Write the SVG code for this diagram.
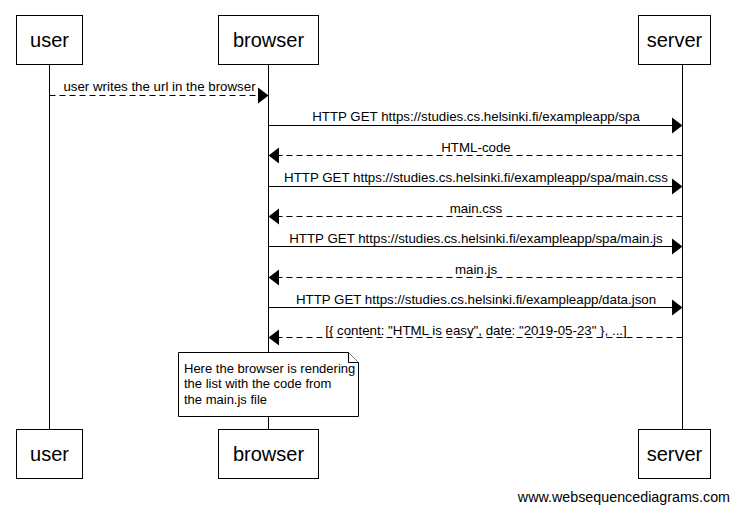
<svg xmlns="http://www.w3.org/2000/svg" width="739" height="512" viewBox="0 0 739 512">
<style>
.box{fill:#fff;stroke:#000;stroke-width:1}
.life{stroke:#000;stroke-width:1}
.pt{font-family:"Liberation Sans",Arial,sans-serif;font-size:20px;text-anchor:middle;fill:#000}
.lbl{font-family:"Liberation Sans",Arial,sans-serif;font-size:13.3px;text-anchor:middle;fill:#000}
.note{font-family:"Liberation Sans",Arial,sans-serif;font-size:13px;fill:#000}
.sol{stroke:#000;stroke-width:1;fill:none}
.dash{stroke:#000;stroke-width:1;fill:none;stroke-dasharray:6,4}
.head{fill:#000}
</style>
<rect width="739" height="512" fill="#fff"/>
<g id="lifelines">
<line class="life" x1="49.5" y1="64" x2="49.5" y2="430"/>
<line class="life" x1="268.5" y1="64" x2="268.5" y2="430"/>
<line class="life" x1="682.5" y1="64" x2="682.5" y2="430"/>
</g>
<g id="user">
<rect class="box" x="16.5" y="15.5" width="66" height="49"/>
<text class="pt" x="49.5" y="47">user</text>
<rect class="box" x="16.5" y="429.5" width="66" height="49"/>
<text class="pt" x="49.5" y="461">user</text>
</g>
<g id="browser">
<rect class="box" x="218.5" y="15.5" width="100" height="49"/>
<text class="pt" x="268.5" y="47">browser</text>
<rect class="box" x="218.5" y="429.5" width="100" height="49"/>
<text class="pt" x="268.5" y="461">browser</text>
</g>
<g id="server">
<rect class="box" x="638.5" y="15.5" width="72" height="49"/>
<text class="pt" x="674.5" y="47">server</text>
<rect class="box" x="638.5" y="429.5" width="72" height="49"/>
<text class="pt" x="674.5" y="461">server</text>
</g>
<g id="connectors">
<line class="dash" x1="49.5" y1="95.5" x2="259" y2="95.5"/>
<path class="head" d="M258,87.5 L268.5,95.5 L258,103.5 Z"/>
<text class="lbl" x="159.5" y="91">user writes the url in the browser</text>

<line class="sol" x1="268.5" y1="125.5" x2="673" y2="125.5"/>
<path class="head" d="M672,117.5 L682.5,125.5 L672,133.5 Z"/>
<text class="lbl" x="476" y="121">HTTP GET https://studies.cs.helsinki.fi/exampleapp/spa</text>

<line class="dash" x1="682.5" y1="155.5" x2="278" y2="155.5"/>
<path class="head" d="M279,147.5 L268.5,155.5 L279,163.5 Z"/>
<text class="lbl" x="476" y="152">HTML-code</text>

<line class="sol" x1="268.5" y1="186.5" x2="673" y2="186.5"/>
<path class="head" d="M672,178.5 L682.5,186.5 L672,194.5 Z"/>
<text class="lbl" x="476" y="182">HTTP GET https://studies.cs.helsinki.fi/exampleapp/spa/main.css</text>

<line class="dash" x1="682.5" y1="216.5" x2="278" y2="216.5"/>
<path class="head" d="M279,208.5 L268.5,216.5 L279,224.5 Z"/>
<text class="lbl" x="476" y="213">main.css</text>

<line class="sol" x1="268.5" y1="246.5" x2="673" y2="246.5"/>
<path class="head" d="M672,238.5 L682.5,246.5 L672,254.5 Z"/>
<text class="lbl" x="476" y="243">HTTP GET https://studies.cs.helsinki.fi/exampleapp/spa/main.js</text>

<line class="dash" x1="682.5" y1="277.5" x2="278" y2="277.5"/>
<path class="head" d="M279,269.5 L268.5,277.5 L279,285.5 Z"/>
<text class="lbl" x="476" y="274">main.js</text>

<line class="sol" x1="268.5" y1="307.5" x2="673" y2="307.5"/>
<path class="head" d="M672,299.5 L682.5,307.5 L672,315.5 Z"/>
<text class="lbl" x="476" y="304">HTTP GET https://studies.cs.helsinki.fi/exampleapp/data.json</text>

<line class="dash" x1="682.5" y1="337.5" x2="278" y2="337.5"/>
<path class="head" d="M279,329.5 L268.5,337.5 L279,345.5 Z"/>
<text class="lbl" x="476" y="335">[{ content: "HTML is easy", date: "2019-05-23" }, ...]</text>
</g>
<g id="note">
<path class="box" d="M178.5,352.5 L348.5,352.5 L358.5,362.5 L358.5,416.5 L178.5,416.5 Z"/>
<path class="box" d="M348.5,352.5 L348.5,362.5 L358.5,362.5"/>
<text class="note" x="184" y="373">Here the browser is rendering</text>
<text class="note" x="184" y="388">the list with the code from</text>
<text class="note" x="184" y="404">the main.js file</text>
</g>
<text x="730" y="502" font-family="Liberation Sans,Arial,sans-serif" font-size="14.3px" text-anchor="end" fill="#000">www.websequencediagrams.com</text>
</svg>
